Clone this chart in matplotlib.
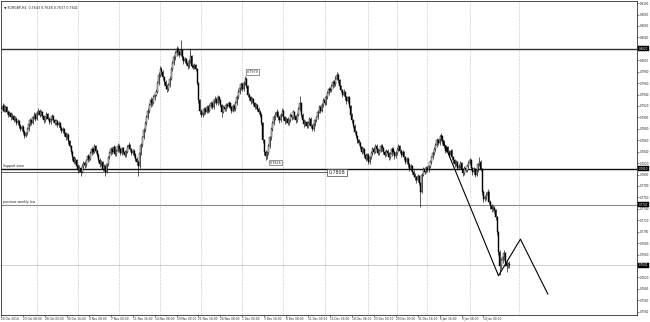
import matplotlib
matplotlib.use("Agg")
import matplotlib.pyplot as plt
import numpy as np
from matplotlib.transforms import blended_transform_factory

# ---------------- data (prices x 10000), EURGBP H4 ----------------
first_open = 7910
closes = [
    7915,7920,7912,7918,7910,7905,7908,7900,7903,7896,
    7898,7890,7894,7885,7880,7884,7875,7868,7872,7880,
    7888,7895,7890,7900,7905,7898,7908,7912,7905,7910,
    7902,7895,7900,7906,7898,7892,7897,7903,7895,7890,
    7894,7886,7890,7882,7876,7880,7872,7865,7870,7858,
    7850,7840,7830,7822,7826,7815,7808,7812,7805,7815,
    7820,7816,7825,7832,7828,7838,7845,7840,7850,7842,
    7835,7826,7818,7822,7810,7815,7805,7818,7830,7838,
    7845,7840,7848,7836,7842,7850,7844,7838,7846,7840,
    7834,7840,7848,7852,7845,7838,7842,7835,7828,7822,
    7815,7838,7852,7865,7878,7890,7900,7912,7922,7930,
    7926,7935,7940,7945,7960,7975,7985,7980,7970,7962,
    7955,7950,7956,7968,7985,7995,8005,8012,8020,8015,
    8010,8018,8005,7998,8002,7995,7990,7998,8008,7990,
    7988,7992,7985,7960,7930,7912,7905,7908,7915,7910,
    7918,7912,7920,7925,7918,7928,7932,7925,7935,7930,
    7922,7910,7918,7915,7922,7920,7925,7918,7912,7920,
    7915,7925,7935,7945,7952,7958,7950,7960,7968,7955,
    7940,7935,7928,7932,7925,7918,7922,7915,7910,7905,
    7890,7860,7840,7832,7838,7850,7865,7880,7890,7900,
    7905,7910,7900,7895,7905,7912,7900,7893,7898,7890,
    7895,7905,7900,7910,7902,7895,7905,7915,7925,7905,
    7895,7888,7892,7885,7890,7898,7885,7880,7888,7895,
    7900,7910,7918,7912,7922,7930,7925,7935,7942,7950,
    7948,7955,7962,7958,7968,7975,7965,7955,7948,7940,
    7945,7935,7928,7935,7920,7905,7895,7885,7875,7868,
    7860,7855,7848,7840,7845,7835,7828,7835,7822,7830,
    7838,7845,7840,7850,7845,7838,7842,7850,7846,7840,
    7835,7842,7838,7830,7836,7845,7840,7832,7838,7845,
    7850,7842,7835,7840,7830,7822,7828,7818,7810,7815,
    7805,7800,7795,7790,7798,7785,7770,7800,7810,7805,
    7812,7808,7815,7822,7830,7838,7845,7852,7860,7855,
    7862,7868,7858,7850,7842,7848,7840,7835,7842,7830,
    7825,7818,7822,7812,7815,7820,7810,7802,7812,7808,
    7815,7820,7825,7812,7804,7810,7800,7808,7818,7822,
    7810,7770,7758,7760,7765,7770,7752,7745,7740,7742,
    7738,7725,7700,7665,7640,7650,7655,7662,7645,7640,
    7643,7641,
]
highs = [
    7919,7925,7923,7922,7920,7913,7912,7910,7907,7905,
    7902,7900,7897,7896,7888,7887,7886,7878,7875,7883,
    7891,7899,7898,7903,7909,7907,7911,7916,7914,7913,
    7912,7904,7903,7910,7908,7900,7900,7906,7905,7898,
    7897,7896,7893,7892,7885,7883,7882,7875,7873,7872,
    7861,7852,7843,7833,7830,7828,7818,7816,7814,7818,
    7824,7823,7828,7836,7835,7841,7849,7848,7854,7852,
    7845,7837,7829,7826,7824,7819,7817,7821,7833,7842,
    7849,7848,7852,7850,7845,7855,7853,7846,7849,7848,
    7843,7843,7851,7857,7854,7847,7845,7844,7837,7830,
    7825,7841,7856,7868,7882,7894,7904,7916,7926,7935,
    7934,7939,7944,7950,7964,7979,7990,7988,7983,7973,
    7965,7958,7960,7972,7989,7999,8009,8016,8025,8023,
    8018,8035,8020,8008,8006,8004,7998,8002,8020,8010,
    7994,7996,7994,7987,7962,7932,7915,7912,7919,7918,
    7922,7921,7924,7929,7927,7932,7937,7934,7940,7938,
    7932,7924,7921,7921,7926,7925,7929,7927,7920,7923,
    7923,7928,7939,7949,7956,7962,7961,7964,7972,7970,
    7957,7943,7938,7936,7934,7927,7926,7924,7918,7913,
    7907,7892,7862,7843,7842,7853,7868,7884,7894,7904,
    7909,7914,7912,7903,7908,7916,7914,7902,7901,7900,
    7898,7908,7908,7913,7912,7905,7908,7919,7938,7927,
    7907,7898,7895,7894,7893,7901,7900,7888,7891,7898,
    7903,7913,7922,7920,7925,7934,7933,7939,7946,7954,
    7953,7959,7966,7965,7972,7980,7977,7967,7957,7950,
    7949,7947,7938,7938,7937,7922,7908,7897,7888,7878,
    7870,7863,7858,7850,7848,7847,7837,7838,7837,7833,
    7841,7849,7848,7854,7853,7847,7845,7854,7853,7848,
    7843,7845,7845,7840,7839,7848,7848,7842,7841,7849,
    7854,7852,7845,7843,7842,7833,7831,7830,7821,7818,
    7817,7808,7803,7798,7801,7800,7787,7803,7814,7813,
    7815,7815,7818,7826,7833,7842,7849,7856,7864,7863,
    7866,7872,7870,7861,7852,7851,7850,7843,7845,7844,
    7833,7827,7825,7824,7818,7823,7822,7812,7815,7815,
    7818,7823,7829,7827,7814,7813,7812,7811,7821,7830,
    7825,7812,7773,7764,7769,7774,7772,7755,7748,7746,
    7745,7740,7727,7702,7668,7654,7662,7668,7664,7648,
    7647,7648,
]
lows = [
    7907,7912,7909,7910,7906,7901,7902,7896,7897,7892,
    7893,7886,7887,7882,7876,7877,7871,7864,7865,7870,
    7877,7885,7886,7888,7897,7894,7896,7905,7901,7902,
    7899,7891,7892,7898,7895,7888,7889,7895,7892,7886,
    7887,7883,7883,7878,7872,7873,7868,7861,7862,7854,
    7846,7836,7826,7818,7819,7811,7802,7804,7798,7802,
    7812,7812,7814,7822,7824,7826,7835,7836,7838,7838,
    7831,7822,7814,7815,7806,7807,7797,7802,7815,7827,
    7835,7836,7837,7832,7833,7839,7840,7834,7835,7836,
    7830,7831,7837,7845,7841,7834,7835,7831,7824,7817,
    7798,7812,7835,7849,7862,7875,7886,7897,7908,7918,
    7920,7923,7931,7937,7942,7956,7971,7975,7966,7957,
    7950,7945,7946,7953,7965,7981,7991,8001,8008,8010,
    8006,8007,8001,7994,7995,7991,7985,7987,7995,7986,
    7984,7985,7981,7956,7925,7906,7900,7901,7905,7906,
    7907,7908,7909,7917,7914,7915,7925,7921,7922,7926,
    7918,7900,7907,7911,7912,7916,7917,7914,7908,7909,
    7911,7912,7922,7932,7941,7948,7946,7947,7957,7951,
    7936,7931,7924,7925,7921,7914,7915,7911,7906,7900,
    7886,7855,7835,7826,7828,7835,7846,7861,7876,7886,
    7896,7901,7896,7891,7892,7902,7896,7889,7890,7886,
    7887,7892,7896,7897,7898,7891,7892,7902,7912,7901,
    7891,7884,7885,7881,7882,7887,7881,7876,7877,7885,
    7892,7897,7907,7908,7909,7919,7921,7922,7932,7939,
    7944,7945,7952,7954,7955,7965,7961,7951,7944,7936,
    7937,7931,7924,7925,7916,7901,7891,7881,7871,7864,
    7856,7851,7844,7836,7837,7831,7824,7825,7818,7819,
    7827,7835,7836,7837,7841,7834,7835,7839,7842,7836,
    7831,7832,7834,7826,7827,7833,7836,7828,7829,7835,
    7842,7838,7831,7832,7826,7818,7819,7814,7806,7807,
    7801,7796,7791,7786,7787,7781,7743,7767,7797,7801,
    7802,7804,7805,7812,7819,7827,7835,7842,7849,7851,
    7852,7859,7854,7846,7838,7839,7836,7831,7832,7826,
    7821,7814,7815,7808,7809,7812,7806,7798,7799,7804,
    7805,7812,7817,7808,7800,7801,7796,7797,7805,7815,
    7806,7765,7752,7754,7756,7761,7748,7740,7735,7736,
    7733,7720,7695,7660,7624,7635,7646,7650,7640,7630,
    7636,7637,
]

date_labels = ["20 Oct 2014", "23 Oct 08:00", "28 Oct 00:00", "30 Oct 16:00",
               "4 Nov 08:00", "7 Nov 00:00", "11 Nov 16:00", "14 Nov 08:00",
               "19 Nov 00:00", "21 Nov 16:00", "26 Nov 08:00", "1 Dec 00:00",
               "3 Dec 16:00", "8 Dec 08:00", "11 Dec 00:00", "15 Dec 16:00",
               "18 Dec 08:00", "23 Dec 00:00", "29 Dec 00:00", "31 Dec 16:00",
               "6 Jan 16:00", "9 Jan 08:00", "14 Jan 00:00"]
bars_per_label = 16
week_grid_bars = [26, 56, 86, 116, 146, 176, 206, 236, 268, 289, 311, 342, 378]

resistance = 0.8020
support = 0.7810
support_zone_low = 0.7804
support_zone_end_bar = 238
support_zone_text = "0.7808"
weekly_level = 0.7747
marked_high = (178, 0.7979)
marked_low = (195, 0.7826)
zigzag_bars = [321, 363, 379, 399]
zigzag_prices = [0.7868, 0.7623, 0.7687, 0.7591]

# ---------------- prepare ----------------
c = np.array(closes) / 10000.0
h = np.array(highs) / 10000.0
l = np.array(lows) / 10000.0
o = np.concatenate([[first_open / 10000.0], c[:-1]])
n = len(c)
x = np.arange(n)

fig = plt.figure(figsize=(6.5, 3.22), dpi=100)
fig.patch.set_facecolor("white")
ax = fig.add_axes([1/650, 7/322, 636/650, 314/322])
ax.set_facecolor("white")
ax.set_xlim(-0.15, 464.1)
ax.set_ylim(0.755425, 0.810375)

# grid (weekly separators)
for gb in week_grid_bars:
    ax.axvline(gb, color="#a8a8a8", lw=0.5, ls=(0, (1, 1.5)), zorder=0)

# horizontal levels
ax.axhline(resistance, color="#303030", lw=1.0, zorder=1)
ax.axhline(support, color="#101010", lw=1.0, zorder=1)
ax.plot([-0.15, support_zone_end_bar], [support_zone_low, support_zone_low],
        color="#202020", lw=0.5, zorder=1)
ax.axhline(weekly_level, color="#8a8a8a", lw=0.8, zorder=1)
ax.axhline(c[-1], color="#c8c8c8", lw=0.6, zorder=1)

# candles
up = c >= o
ax.vlines(x, l, h, color="black", lw=0.45, zorder=3)
body_lo = np.minimum(o, c)
body_h = np.maximum(np.abs(c - o), 0.00004)
ax.bar(x[up], body_h[up], bottom=body_lo[up], width=0.75, color="white",
       edgecolor="black", linewidth=0.3, zorder=4)
ax.bar(x[~up], body_h[~up], bottom=body_lo[~up], width=0.75, color="black",
       edgecolor="black", linewidth=0.3, zorder=4)

# zigzag trend lines
ax.plot(zigzag_bars, zigzag_prices, color="black", lw=0.8, zorder=5)

# text labels on the chart
fs = 2.3
ax.text(1, support + 0.0002, "Support zone", fontsize=fs, color="#202020",
        va="bottom", ha="left", zorder=6)
ax.text(1, weekly_level + 0.0002, "previous weekly low", fontsize=fs,
        color="#202020", va="bottom", ha="left", zorder=6)
ax.text(support_zone_end_bar + 1, support_zone_low, support_zone_text,
        fontsize=3.4, color="#202020", va="center", ha="left", zorder=6,
        bbox=dict(boxstyle="square,pad=0.25", fc="white", ec="#404040", lw=0.5))
ax.text(marked_high[0] + 1, marked_high[1], "%.4f" % marked_high[1],
        fontsize=2.4, color="#202020", va="center", ha="left", zorder=6,
        bbox=dict(boxstyle="square,pad=0.25", fc="white", ec="#404040", lw=0.4))
ax.text(marked_low[0] + 1, marked_low[1] - 0.0005, "%.4f" % marked_low[1],
        fontsize=2.4, color="#202020", va="center", ha="left", zorder=6,
        bbox=dict(boxstyle="square,pad=0.25", fc="white", ec="#404040", lw=0.4))

# header
ax.text(0.004, 0.985, "\u25bc EURGBP,H4  %.4f %.4f %.4f %.4f" % (o[-1], h[-1], l[-1], c[-1]),
        transform=ax.transAxes, fontsize=2.3, color="#202020", va="top", ha="left")

# right price axis
ax.yaxis.tick_right()
yt = np.arange(0.7560, 0.81001, 0.0020)
ax.set_yticks(yt)
ax.set_yticklabels(["%.4f" % v for v in yt])
ax.tick_params(axis="y", labelsize=2.0, length=1.2, width=0.4, pad=0.6,
               colors="#202020")
trans = blended_transform_factory(ax.transAxes, ax.transData)
for lvl in [resistance, support, weekly_level, c[-1]]:
    ax.text(1.003, lvl, "%.4f" % lvl, transform=trans, fontsize=2.0,
            color="white", va="center", ha="left", zorder=7, clip_on=False,
            bbox=dict(boxstyle="square,pad=0.15", fc="black", ec="black", lw=0.3))

# bottom time axis
xt = [i * bars_per_label for i in range(len(date_labels))]
ax.set_xticks(xt)
ax.set_xticklabels(date_labels, ha="left")
ax.tick_params(axis="x", labelsize=2.05, length=1.2, width=0.4, pad=0.5,
               colors="#202020")

for s in ax.spines.values():
    s.set_color("#303030")
    s.set_linewidth(0.6)

fig.savefig("out.png", dpi=100, facecolor="white")
